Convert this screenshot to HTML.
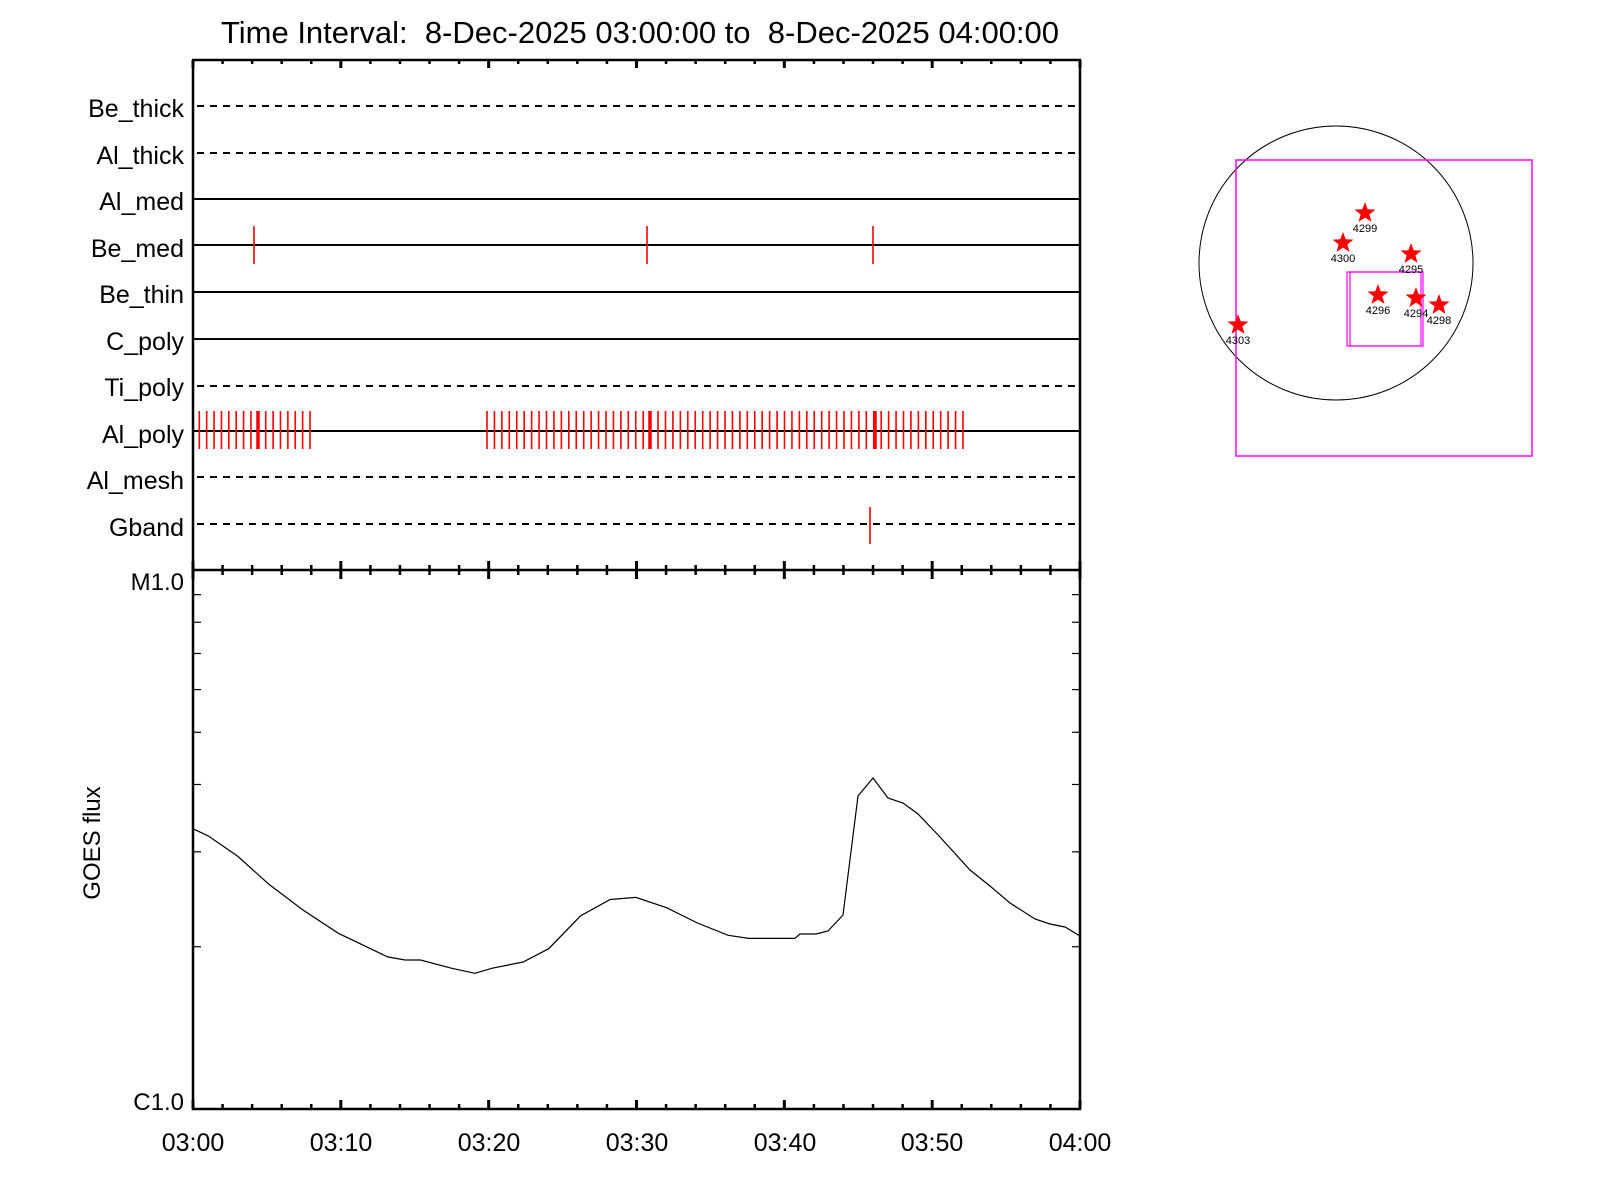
<!DOCTYPE html>
<html><head><meta charset="utf-8"><style>
html,body{margin:0;padding:0;background:#fff;}
svg{display:block;font-family:"Liberation Sans",sans-serif;}
</style></head><body>
<svg width="1600" height="1200" viewBox="0 0 1600 1200" xmlns="http://www.w3.org/2000/svg">
<rect width="1600" height="1200" fill="#fff"/>
<text x="640" y="43" font-size="31" text-anchor="middle" fill="#000" xml:space="preserve">Time Interval:&#160; 8-Dec-2025 03:00:00 to&#160; 8-Dec-2025 04:00:00</text>
<g font-size="25" text-anchor="end" fill="#000">
<text x="184" y="117">Be_thick</text>
<text x="184" y="164">Al_thick</text>
<text x="184" y="210">Al_med</text>
<text x="184" y="257">Be_med</text>
<text x="184" y="303">Be_thin</text>
<text x="184" y="350">C_poly</text>
<text x="184" y="396">Ti_poly</text>
<text x="184" y="443">Al_poly</text>
<text x="184" y="489">Al_mesh</text>
<text x="184" y="536">Gband</text>
<text x="184" y="590" font-size="24">M1.0</text>
<text x="184" y="1110" font-size="24">C1.0</text>
</g>
<g stroke="#000" stroke-width="2" fill="none">
<line x1="197" y1="106" x2="1078" y2="106" stroke-dasharray="7,6"/>
<line x1="197" y1="153" x2="1078" y2="153" stroke-dasharray="7,6"/>
<line x1="193" y1="199" x2="1080" y2="199"/>
<line x1="193" y1="245" x2="1080" y2="245"/>
<line x1="193" y1="292" x2="1080" y2="292"/>
<line x1="193" y1="339" x2="1080" y2="339"/>
<line x1="197" y1="386" x2="1078" y2="386" stroke-dasharray="7,6"/>
<line x1="193" y1="431" x2="1080" y2="431"/>
<line x1="197" y1="477" x2="1078" y2="477" stroke-dasharray="7,6"/>
<line x1="197" y1="524" x2="1078" y2="524" stroke-dasharray="7,6"/>
</g>
<g stroke="red" stroke-width="1.6">
<line x1="254" y1="226" x2="254" y2="264"/>
<line x1="647" y1="226" x2="647" y2="264"/>
<line x1="873" y1="226" x2="873" y2="264"/>
<line x1="870" y1="507" x2="870" y2="544"/>
</g>
<g id="alpoly" stroke="red" stroke-width="1.6"></g>
<g id="axes" stroke="#000" fill="none"></g>
<polyline id="curve" fill="none" stroke="#000" stroke-width="1.2" points=""/>
<g font-size="25" text-anchor="middle" fill="#000">
<text x="193" y="1151">03:00</text>
<text x="341" y="1151">03:10</text>
<text x="489" y="1151">03:20</text>
<text x="637" y="1151">03:30</text>
<text x="785" y="1151">03:40</text>
<text x="932" y="1151">03:50</text>
<text x="1080" y="1151">04:00</text>
</g>
<text transform="translate(100,843) rotate(-90)" font-size="24" text-anchor="middle" fill="#000">GOES flux</text>
<circle cx="1336" cy="263" r="137" fill="none" stroke="#000" stroke-width="1"/>
<rect x="1236" y="160" width="296" height="296" fill="none" stroke="#f0f" stroke-width="1.5"/>
<rect x="1347" y="272" width="76" height="74" fill="none" stroke="#f0f" stroke-width="1.2"/>
<rect x="1350" y="272" width="71" height="74" fill="none" stroke="#f0f" stroke-width="1.2"/>
<g id="stars"></g>
<script>
var ns="http://www.w3.org/2000/svg";
function L(g,x1,y1,x2,y2,w){var l=document.createElementNS(ns,"line");l.setAttribute("x1",x1);l.setAttribute("y1",y1);l.setAttribute("x2",x2);l.setAttribute("y2",y2);l.setAttribute("stroke-width",w||2);g.appendChild(l);}
var ap=document.getElementById("alpoly");
for(var k=0;k<16;k++){var x=199.3+k*7.38;L(ap,x,411,x,449,1.6);}
for(var k=0;k<65;k++){var x=487+k*(476/64);L(ap,x,411,x,449,1.6);}
L(ap,258,411,258,449,3.5);L(ap,650,411,650,449,3.5);L(ap,875,411,875,449,3.5);
var ax=document.getElementById("axes");
L(ax,193,60,193,1110,2.5);L(ax,1080,60,1080,1110,2.5);
L(ax,192,60,1081,60,2.5);L(ax,192,570,1081,570,2.5);L(ax,192,1109,1081,1109,2.5);
for(var m=0;m<=60;m+=2){var x=193+m*887/60;var maj=(m%10==0);
 L(ax,x,60,x,60+(maj?8:4),maj?3:2.5);
 L(ax,x,570-(maj?9:5),x,570+(maj?9:5),maj?3:2.5);
 L(ax,x,1109,x,1109-(maj?9:5),maj?3:2.5);}
for(var v=2;v<=9;v++){var y=1109-539*Math.log10(v);L(ax,193,y,201,y,1.2);L(ax,1072,y,1080,y,1.2);}
var s=1.0256;
var d=[[188,808],[203,815],[232,835],[262,862],[295,887],[330,910],[378,933],[395,936],[410,936],[440,944],[463,949],[480,944],[510,938],[535,925],[566,893],[595,877],[620,875],[650,885],[680,900],[710,912],[730,915],[775,915]];
var pts=d.map(function(p){return (p[0]*s).toFixed(1)+","+(p[1]*s).toFixed(1)});
var r=[[800,934],[816,934],[828,931],[843,915],[858,796],[873,778],[888,798],[903,803],[918,814],[940,837],[970,870],[990,886],[1010,903],[1035,919],[1050,924],[1065,927],[1080,936]];
r.forEach(function(p){pts.push(p[0]+","+p[1])});
document.getElementById("curve").setAttribute("points",pts.join(" "));
function star(cx,cy,R){var p=[];for(var i=0;i<10;i++){var a=-Math.PI/2+i*Math.PI/5;var rr=i%2?R*0.42:R;p.push((cx+rr*Math.cos(a)).toFixed(1)+","+(cy+rr*Math.sin(a)).toFixed(1));}return p.join(" ");}
var sg=document.getElementById("stars");
[[1365,213,"4299"],[1343,243,"4300"],[1411,254,"4295"],[1378,295,"4296"],[1416,298,"4294"],[1439,305,"4298"],[1238,325,"4303"]].forEach(function(q){
 var pg=document.createElementNS(ns,"polygon");pg.setAttribute("points",star(q[0],q[1],11));pg.setAttribute("fill","red");sg.appendChild(pg);
 var t=document.createElementNS(ns,"text");t.setAttribute("x",q[0]);t.setAttribute("y",q[1]+19);t.setAttribute("font-size","11");t.setAttribute("text-anchor","middle");t.textContent=q[2];sg.appendChild(t);});
</script>
</svg>
</body></html>
